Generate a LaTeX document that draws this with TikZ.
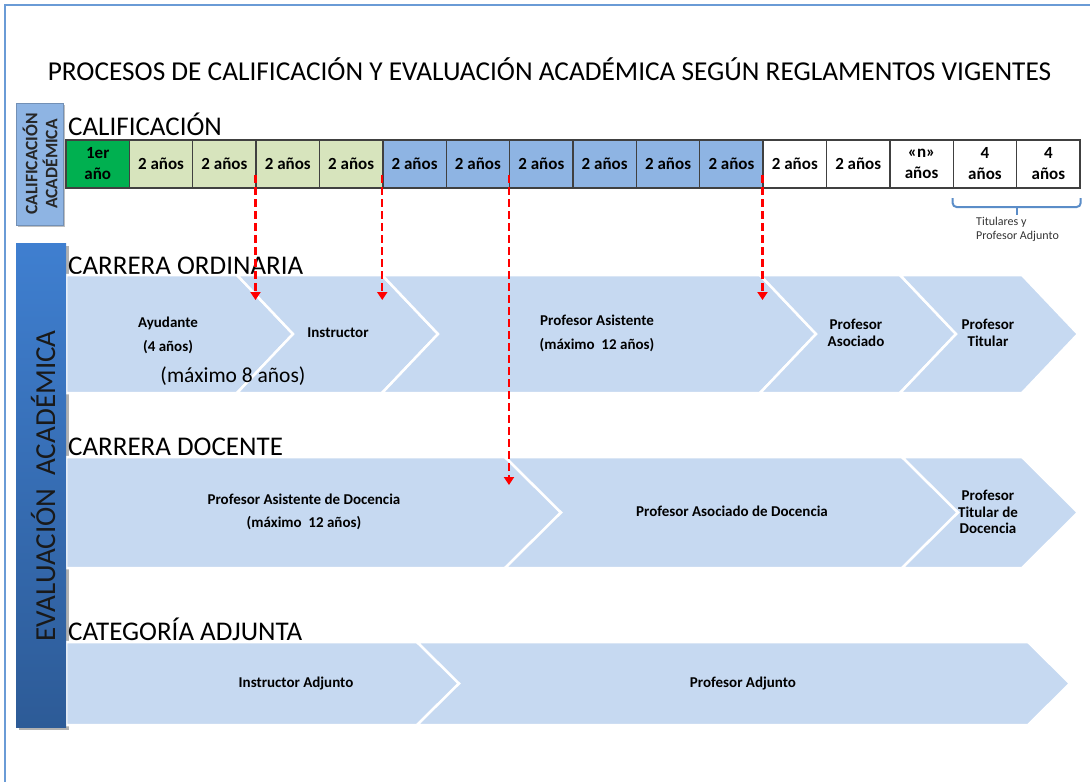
\documentclass[tikz,border=0pt]{standalone}
\usepackage{fontspec}
\setmainfont{Carlito}
\usetikzlibrary{shadows,arrows.meta,calc}
\definecolor{framec}{HTML}{6A9BD6}
\definecolor{greenA}{HTML}{00B050}
\definecolor{greenB}{HTML}{D7E4BD}
\definecolor{blueA}{HTML}{8EB4E3}
\definecolor{chevc}{HTML}{C6D9F1}
\definecolor{evaltop}{HTML}{3F7FD0}
\definecolor{evalbot}{HTML}{2D5B97}
\definecolor{brkc}{HTML}{5B8DC8}
\definecolor{cellline}{HTML}{404040}
\tikzset{
  cell/.style={draw=cellline, line width=1.3pt, minimum width=63.375pt, minimum height=48pt, inner sep=0pt, align=center, font=\fontsize{17}{21}\selectfont\bfseries},
  chev/.style={fill=chevc, draw=white, line width=2.5pt},
  lbl/.style={align=center, font=\fontsize{15}{24}\selectfont\bfseries, inner sep=0pt},
  lblt/.style={align=center, font=\fontsize{15}{17}\selectfont\bfseries, inner sep=0pt},
  heading/.style={anchor=base west, inner sep=0pt, font=\fontsize{27}{30}\selectfont},
  reddash/.style={draw=red, line width=2.5pt, dash pattern=on 8pt off 4pt, -{Triangle[length=8pt,width=10pt]}},
}
\begin{document}
\begin{tikzpicture}[x=1pt,y=-1pt]
\useasboundingbox (0,0) rectangle (1090,782);
% frame
\draw[framec, line width=1.5pt] (5,782) -- (5,5) -- (1090,5);
% title
\node[anchor=base, inner sep=0pt, font=\fontsize{27.3}{30}\selectfont] (title) at (549.5,80) {PROCESOS DE CALIFICACIÓN Y EVALUACIÓN ACADÉMICA SEGÚN REGLAMENTOS VIGENTES};
% calificacion academica box
\fill[black!25] (18,105) rectangle (65,227);
\draw[fill=blueA, draw=blueA!80!black, line width=0.8pt] (16,103) rectangle (63,225);
\node[rotate=90, align=center, inner sep=0pt, font=\fontsize{17.5}{20}\selectfont\bfseries, text=black!85] (calacad) at (40,164) {CALIFICACIÓN\\ACADÉMICA};
\node[heading] (hcal) at (68,135) {CALIFICACIÓN};
% table
\node[cell, fill=greenA] (c1) at (97.69,164) {1er\\año};
\node[cell, fill=greenB] (c2) at (161.06,164) {2 años};
\node[cell, fill=greenB] (c3) at (224.44,164) {2 años};
\node[cell, fill=greenB] (c4) at (287.81,164) {2 años};
\node[cell, fill=greenB] (c5) at (351.19,164) {2 años};
\node[cell, fill=blueA] (c6) at (414.56,164) {2 años};
\node[cell, fill=blueA] (c7) at (477.94,164) {2 años};
\node[cell, fill=blueA] (c8) at (541.31,164) {2 años};
\node[cell, fill=blueA] (c9) at (604.69,164) {2 años};
\node[cell, fill=blueA] (c10) at (668.06,164) {2 años};
\node[cell, fill=blueA] (c11) at (731.44,164) {2 años};
\node[cell, fill=white] (c12) at (794.81,164) {2 años};
\node[cell, fill=white] (c13) at (858.19,164) {2 años};
\node[cell, fill=white] (c14) at (921.56,164) {«n»\\años};
\node[cell, fill=white] (c15) at (984.94,164) {4\\años};
\node[cell, fill=white] (c16) at (1048.31,164) {4\\años};
% bracket
\draw[brkc, line width=2pt, rounded corners=4pt] (c15.south west |- 0,198) -- (c15.south west |- 0,207) -- (c16.south east |- 0,207) -- (c16.south east |- 0,198);
\draw[brkc, line width=2pt] (c15.south east |- 0,207) -- (c15.south east |- 0,215);
\node[anchor=north west, align=left, inner sep=0pt, font=\fontsize{12}{13.5}\selectfont, text=black!80] (tit) at (976,217) {Titulares y\\Profesor Adjunto};
% evaluacion bar shadow
\fill[black!30] (19,246) rectangle (69,730);
% headings
\node[heading] (hord) at (68,274) {CARRERA ORDINARIA};
\node[heading] (hdoc) at (68,455) {CARRERA DOCENTE};
\node[heading] (hadj) at (68,640) {CATEGORÍA ADJUNTA};
% row 1
\path[chev] (66,275) -- (237,275) -- (293,334) -- (237,393) -- (66,393) -- cycle;
\path[chev] (237,275) -- (382,275) -- (438,334) -- (382,393) -- (237,393) -- (293,334) -- cycle;
\path[chev] (382,275) -- (760,275) -- (816,334) -- (760,393) -- (382,393) -- (438,334) -- cycle;
\path[chev] (760,275) -- (900,275) -- (956,334) -- (900,393) -- (760,393) -- (816,334) -- cycle;
\path[chev] (900,275) -- (1022,275) -- (1078,334) -- (1022,393) -- (900,393) -- (956,334) -- cycle;
\node[lbl] (ayu) at (168,335) {Ayudante\\(4 años)};
\node[inner sep=0pt, font=\fontsize{21.5}{24}\selectfont] (max8) at (233,376) {(máximo 8 años)};
\node[lbl] (ins) at (338,333) {Instructor};
\node[lbl] (pasis) at (597,333) {Profesor Asistente\\(máximo\ \ 12 años)};
\node[lblt] (pasoc) at (856,333) {Profesor\\Asociado};
\node[lblt] (ptit) at (988,333) {Profesor\\Titular};
% row 2
\path[chev] (66,457) -- (505,457) -- (561,512.5) -- (505,568) -- (66,568) -- cycle;
\path[chev] (505,457) -- (902,457) -- (958,512.5) -- (902,568) -- (505,568) -- (561,512.5) -- cycle;
\path[chev] (902,457) -- (1022,457) -- (1078,512.5) -- (1022,568) -- (902,568) -- (958,512.5) -- cycle;
\node[lbl, font=\fontsize{15}{23}\selectfont\bfseries] (pad) at (304,512) {Profesor Asistente de Docencia\\(máximo\ \ 12 años)};
\node[lbl] (pasd) at (732,511) {Profesor Asociado de Docencia};
\node[lblt, font=\fontsize{15}{16.5}\selectfont\bfseries] (ptd) at (988,512) {Profesor\\Titular de\\Docencia};
% row 3
\path[chev] (66,642) -- (417,642) -- (459,683.5) -- (417,725) -- (66,725) -- cycle;
\path[chev] (417,642) -- (1028,642) -- (1070,683.5) -- (1028,725) -- (417,725) -- (459,683.5) -- cycle;
\node[lbl] (iadj) at (296,683) {Instructor Adjunto};
\node[lbl] (padj) at (743,683) {Profesor Adjunto};
% evaluacion bar
\shade[top color=evaltop, bottom color=evalbot] (16,243) rectangle (66,727);
\node[rotate=90, inner sep=0pt, font=\fontsize{29}{32}\selectfont, text=black!90] (evac) at (43,486) {EVALUACIÓN\ \ ACADÉMICA};
% red dashed arrows
\coordinate (s1) at (c4.west |- 0,175);
\coordinate (e1) at (c4.west |- 0,300);
\coordinate (s2) at (c6.west |- 0,175);
\coordinate (e2) at (c6.west |- 0,300);
\coordinate (s3) at (c8.west |- 0,175);
\coordinate (e3) at (c8.west |- 0,485);
\coordinate (s4) at (c12.west |- 0,175);
\coordinate (e4) at (c12.west |- 0,300);
\draw[reddash] (s1) -- (e1);
\draw[reddash] (s2) -- (e2);
\draw[reddash] (s3) -- (e3);
\draw[reddash] (s4) -- (e4);
\end{tikzpicture}
\end{document}
